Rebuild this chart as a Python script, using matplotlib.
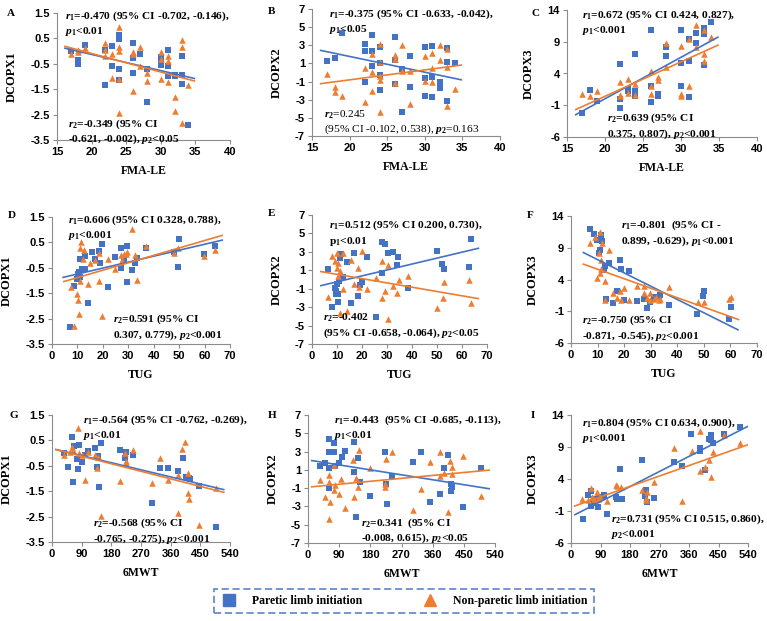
import numpy as np
import matplotlib.pyplot as plt
from matplotlib.lines import Line2D

plt.rcParams['font.family'] = ['Liberation Serif', 'DejaVu Serif']
plt.rcParams['mathtext.fontset'] = 'custom'
plt.rcParams['mathtext.rm'] = 'Liberation Serif:bold'
plt.rcParams['mathtext.it'] = 'Liberation Serif:italic:bold'
plt.rcParams['mathtext.bf'] = 'Liberation Serif:bold'

BLUE = '#4472C4'
ORANGE = '#ED7D31'

#---------------------------
# Données
#---------------------------

# A : FMA-LE vs DCOPX1
A_par_x = [17, 18, 18, 19, 22, 22, 23, 23, 24, 24, 24, 24, 26, 26, 26, 27, 28, 28, 30, 30, 30, 31, 31, 31, 32, 32, 33, 33, 33, 34]
A_par_y = [0.0, -0.35, -0.5, 0.25, 0.05, -1.34, 0.19, -0.58, 0.62, 0.47, -0.69, -1.14, 0.3, -0.27, -0.88, -0.1, -2.0, -0.69,
           -0.23, -0.53, -0.36, 0.06, -0.6, -0.99, -0.95, -0.99, -0.2, -0.95, -1.31, -2.9]
A_non_x = [17, 18, 18, 19, 22, 22, 22, 23, 23, 24, 24, 24, 24, 24, 26, 26, 26, 27, 27, 28, 28, 30, 30, 30, 31, 31, 31, 32, 32, 33, 33, 33, 34]
A_non_y = [-0.1, -0.03, 0.03, 0.13, 0.3, 0.03, -0.2, -0.1, -1.04, 0.95, 0.17, 0.0, -1.1, -2.45, -0.03, -0.12, -1.56, 0.17, -0.57,
           -0.88, -1.17, -0.03, -1.08, -0.33, -0.2, -0.4, -1.2, -1.8, -2.35, 0.45, 0.17, -2.85, -1.35]

# B : FMA-LE vs DCOPX2
B_par_x = [17, 18, 19, 22, 22, 22, 23, 23, 23, 24, 24, 24, 24, 26, 26, 26, 27, 27, 28, 28, 30, 30, 30, 31, 31, 31, 32, 32, 33, 33, 33, 34]
B_par_y = [1.3, 1.6, 4.4, 3.1, 2.4, -1.0, 4.1, 2.4, 0.75, 2.8, 1.1, -0.3, -1.9, 3.9, 1.4, -1.3, -4.3, 0.36, 1.8, -1.6,
           2.85, -0.56, -2.56, 2.95, -0.45, -2.7, -1.0, -1.7, 2.65, 1.2, -3.1, 1.1]
B_non_x = [17, 18, 18, 19, 22, 22, 23, 23, 23, 24, 24, 24, 24, 24, 26, 26, 26, 27, 27, 28, 28, 30, 30, 31, 31, 31, 32, 32, 33, 33, 33, 34]
B_non_y = [-0.2, -1.56, -2.1, -2.6, 0.47, -3.3, 2.06, 0.06, -2.0, 3.16, 1.2, -0.4, -0.8, -4.4, 1.95, 1.47, -1.2, 3.05, 0.2,
           0.2, -3.5, 1.83, -0.93, 2.2, 0.47, -1.05, 3.05, 1.4, 2.57, 0.58, -3.7, -1.86]

# C : FMA-LE vs DCOPX3
C_par_x = [17, 18, 19, 22, 22, 22, 23, 23, 24, 24, 24, 26, 26, 26, 27, 27, 28, 28, 30, 30, 30, 31, 31, 31, 32, 32, 33, 33, 33, 34]
C_par_y = [-2.2, 1.4, -0.3, 5.5, 0.0, -1.4, 1.5, 1.2, 7.0, 1.2, 0.4, 10.9, 2.1, -0.5, 0.8, 0.5, 8.1, 6.7, 10.9, 5.6, 2.1,
           9.5, 6.0, 0.3, 10.3, 8.8, 11.1, 10.2, 5.4, 12.1]
C_non_x = [17, 18, 19, 22, 22, 22, 23, 23, 24, 24, 26, 26, 26, 27, 27, 28, 28, 30, 30, 30, 31, 31, 32, 32, 33, 33, 33, 34]
C_non_y = [0.8, 0.4, 1.2, 2.7, 0.6, 0.4, 3.1, 0.9, 2.3, 0.6, 4.4, 2.1, 0.8, 3.5, 3.0, 8.8, 5.1, 8.3, 0.8, 0.4, 9.5, 2.0,
           11.6, 8.2, 10.9, 7.0, 5.9, 9.7]

# D : TUG vs DCOPX1
D_par_x = [7.2, 8.8, 9.8, 10.1, 10.5, 10.9, 11.1, 11.8, 12.4, 13.1, 13.1, 14.1, 15.7, 17.0, 18.3, 18.7, 19.6, 21.9, 24.9,
           27.2, 27.2, 28.4, 29.5, 29.5, 31.4, 32.7, 33.4, 36.9, 47.8, 49.7, 50.0, 59.6, 64.1]
D_par_y = [-2.85, -1.22, -0.96, -0.75, -0.66, -0.88, -0.14, -0.53, -0.53, -0.04, -0.53, -1.9, 0.13, -0.14, 0.17, -0.33, 0.45,
           -1.27, -0.07, 0.26, -0.49, -0.2, 0.35, -1.05, -0.59, -0.31, -0.1, 0.26, 0.13, -0.46, 0.65, 0.06, 0.35]
D_non_x = [7.5, 8.8, 9.8, 10.1, 10.5, 10.9, 11.5, 11.1, 12.2, 12.7, 14.1, 15.1, 17.0, 18.3, 18.3, 19.6, 21.9, 24.9, 27.2,
           27.5, 28.4, 29.2, 29.5, 31.4, 32.7, 33.6, 36.9, 47.8, 49.7, 59.6, 64.1]
D_non_y = [-1.27, -2.8, -1.54, -1.75, -2.3, -1.01, 0.52, 0.26, -0.14, 0.19, -1.12, -0.31, -0.2, 0.09, -1.03, -2.4, -0.16,
           -0.53, 0.0, -0.18, 0.06, 0.03, 0.12, 1.04, 0.0, -0.99, 0.35, 0.1, 0.26, -0.04, 0.19]

# E : TUG vs DCOPX2
E_par_x = [6.4, 8.0, 9.1, 9.4, 9.5, 9.8, 10.2, 10.4, 10.7, 11.1, 11.5, 12.4, 13.8, 15.4, 16.9, 18.2, 19.1, 19.8, 22.1,
           25.4, 27.8, 28.1, 29.2, 30.3, 32.5, 33.9, 34.5, 38.2, 49.9, 51.9, 52.6, 62.6, 63.7]
E_par_y = [1.1, -3.0, -0.94, -1.3, -1.55, -0.47, -2.4, -1.6, -0.15, 2.3, 2.8, 0.32, 1.95, -2.6, 2.85, -1.8, -0.6, -0.3, 2.4,
           -4.1, 0.75, 4.1, 3.9, 2.85, 2.95, 1.6, 2.4, -0.95, 3.1, 1.7, 1.1, 1.4, 4.4]
E_non_x = [6.4, 8.0, 9.1, 9.8, 9.8, 10.4, 10.4, 11.1, 11.1, 12.4, 12.4, 13.8, 15.4, 16.9, 18.2, 18.7, 19.8, 22.1, 25.4,
           27.8, 28.1, 29.2, 30.3, 30.3, 32.5, 33.9, 34.8, 38.3, 49.9, 52.2, 52.6, 62.6, 63.7]
E_non_y = [-1.85, 2.5, 2.0, 2.9, 1.2, 1.8, 0.4, 0.9, -3.6, 2.9, -1.05, -3.4, 2.1, -0.5, 1.3, -0.8, 3.1, -1.0, 0.2, 2.05,
           -2.0, -1.2, 1.6, -4.3, -0.7, -1.5, 0.0, 0.4, -3.1, -2.0, -0.3, -0.1, -2.6]

# F : TUG vs DCOPX3
F_par_x = [7.3, 8.5, 9.8, 10.4, 11.0, 11.3, 11.3, 11.7, 12.3, 12.9, 13.2, 14.2, 15.7, 17.3, 18.6, 18.9, 20.1, 22.0, 24.8,
           27.4, 28.6, 29.6, 31.1, 33.0, 33.6, 36.8, 47.4, 49.7, 49.9, 59.6, 60.2]
F_par_y = [12.0, 11.1, 10.2, 8.2, 8.7, 11.0, 10.3, 10.1, 5.5, 6.1, 0.9, 6.6, 0.3, 2.25, 7.0, 5.6, 0.8, 5.4, 0.6, 0.9, -0.5,
           0.4, 1.2, 1.3, 1.6, 0.0, -1.4, 1.4, 2.25, -2.2, -0.3]
F_non_x = [7.3, 8.9, 9.8, 10.4, 10.8, 10.8, 11.3, 11.3, 11.7, 12.9, 12.9, 14.2, 15.7, 17.3, 18.6, 18.9, 19.8, 22.0, 24.8,
           27.4, 27.6, 28.6, 29.6, 29.9, 31.1, 32.1, 33.0, 33.6, 36.8, 47.8, 49.9, 59.6, 60.4]
F_non_y = [9.8, 10.7, 4.3, 8.2, 11.5, 5.1, 5.7, 7.1, 9.7, 3.7, 0.7, 8.7, 1.8, 1.05, 2.25, 0.7, 2.6, 0.8, 3.0, 1.9, 3.0,
           1.05, 1.9, 0.8, 0.9, 1.2, 0.7, 0.9, 2.8, 0.5, 0.5, 0.9, 1.2]

# G : 6MWT vs DCOPX1
G_par_x = [35, 50, 61, 64, 66, 76, 78, 81, 91, 101, 108, 131, 136, 141, 144, 148, 207, 222, 225, 245, 303, 328, 351, 382,
           396, 406, 417, 419, 447, 498]
G_par_y = [-0.01, -0.54, 0.62, -1.13, 0.28, -0.25, -0.64, 0.32, -0.34, -0.08, 0.09, 0.22, -0.54, -0.12, -1.33, 0.41, 0.12,
           -0.21, 0.05, -0.08, -1.96, -0.6, -0.6, -0.7, -0.21, -0.93, -0.97, -1.0, -1.3, -2.9]
G_non_x = [35, 55, 61, 64, 78, 81, 91, 101, 108, 131, 138, 141, 148, 207, 222, 224, 225, 245, 303, 328, 351, 381, 382,
           394, 404, 414, 414, 417, 447, 498]
G_non_y = [-0.08, 0.05, 0.25, 0.12, 0.97, -0.01, -0.08, -1.07, 0.03, -0.08, -0.58, -0.14, -2.47, -1.09, -0.01, -0.3, -0.38,
           0.14, -1.17, -0.18, -1.07, -2.36, -0.87, 0.18, 0.45, -0.78, -1.59, -1.82, -2.84, -1.36]

# H : 6MWT vs DCOPX2
H_par_x = [34, 48, 60, 60, 60, 60, 75, 75, 77, 89, 98, 106, 133, 133, 143, 138, 149, 178, 222, 225, 227, 243, 304, 326,
           352, 381, 394, 405, 413, 413, 415, 448, 500]
H_par_y = [1.4, 1.7, 4.4, 2.9, 1.15, -1.0, 3.9, 2.9, 1.4, 1.7, 2.4, 3.1, 4.1, 0.8, 2.35, -4.2, -0.3, -1.9, 2.9, -0.6, -2.7,
           0.3, 1.9, 3.0, -2.5, -1.6, 1.2, 2.6, -0.5, -1.3, -0.9, -3.05, 1.15]
H_non_x = [34, 48, 60, 60, 60, 63, 75, 75, 77, 89, 96, 106, 130, 133, 140, 143, 147, 178, 222, 222, 225, 243, 304, 326,
           352, 381, 381, 394, 405, 410, 415, 415, 448, 500]
H_non_y = [-0.1, -2.0, 0.4, -0.3, -4.35, -2.5, 1.5, -1.2, -0.7, -1.6, 0.05, -3.2, 2.1, -1.95, 0.15, -0.9, 3.15, 1.25, -0.9,
           -0.5, 2.15, 3.0, -3.4, -1.05, 1.9, 3.0, 0.3, 0.7, -3.6, 2.0, 1.35, 0.55, 2.5, -1.9]

# I : 6MWT vs DCOPX3
I_par_x = [36, 51, 61, 61, 66, 69, 81, 84, 97, 102, 111, 138, 140, 150, 155, 216, 226, 229, 231, 253, 315, 340, 366, 395,
           395, 408, 420, 428, 428, 434, 466, 517]
I_par_y = [-2.2, 1.5, 2.15, -0.25, 0.27, 0.8, -0.45, 1.1, 1.2, 1.5, -1.4, 1.2, 0.95, 5.5, 0.8, 7.0, 1.3, 2.35, 0.4, 1.05,
           6.6, 6.1, 11.0, 8.8, 8.3, 5.4, 10.2, 10.9, 10.1, 9.7, 11.0, 12.1]
I_non_x = [35, 51, 61, 64, 69, 79, 81, 89, 109, 138, 140, 153, 216, 228, 229, 233, 253, 315, 340, 369, 395, 395, 410, 420,
           428, 432, 466, 517]
I_non_y = [0.95, 0.7, 2.65, 1.2, 0.95, 2.0, 0.8, 1.2, 0.6, 3.05, 2.9, 2.7, 2.25, 0.7, 1.1, 2.0, 3.55, 8.8, 0.6, 8.4, 5.2,
           11.5, 5.9, 7.0, 4.3, 8.2, 10.9, 9.7]

# Textes des corrélations
r1_txt = {
    "A": "$r_{\\mathit{1}}$=-0.470 (95% CI -0.702, -0.146),\n$p_{\\mathit{1}}$<0.01",
    "B": "$r_{\\mathit{1}}$=-0.375 (95% CI -0.633, -0.042),\n$p_{\\mathit{1}}$<0.05",
    "C": "$r_{\\mathit{1}}$=0.672 (95% CI 0.424, 0.827),\n$p_{\\mathit{1}}$<0.001",
    "D": "$r_{\\mathit{1}}$=0.606 (95% CI 0.328, 0.788),\n$p_{\\mathit{1}}$<0.001",
    "E": "$r_{\\mathit{1}}$=0.512 (95% CI 0.200, 0.730),\np$_1$<0.01",
    "F": "$r_{\\mathit{1}}$=-0.801  (95% CI -\n0.899, -0.629), $p_{\\mathit{1}}$<0.001",
    "G": "$r_{\\mathit{1}}$=-0.564 (95% CI -0.762, -0.269),\n$p_{\\mathit{1}}$<0.01",
    "H": "$r_{\\mathit{1}}$=-0.443  (95% CI -0.685, -0.113),\n$p_{\\mathit{1}}$<0.01",
    "I": "$r_{\\mathit{1}}$=0.804 (95% CI 0.634, 0.900),\n$p_{\\mathit{1}}$<0.001",
}
r2_txt = {
    "A": "$r_{\\mathit{2}}$=-0.349 (95% CI\n-0.621, -0.002), $p_{\\mathit{2}}$<0.05",
    "B": "$r_{\\mathit{2}}$=0.245\n(95% CI -0.102, 0.538), $p_{\\mathit{2}}$=0.163",
    "C": "$r_{\\mathit{2}}$=0.639 (95% CI\n0.375, 0.807), $p_{\\mathit{2}}$<0.001",
    "D": "$r_{\\mathit{2}}$=0.591 (95% CI\n0.307, 0.779), $p_{\\mathit{2}}$<0.001",
    "E": "$r_{\\mathit{2}}$=-0.402\n(95% CI -0.658, -0.064), $p_{\\mathit{2}}$<0.05",
    "F": "$r_{\\mathit{2}}$=-0.750 (95% CI\n-0.871, -0.545), $p_{\\mathit{2}}$<0.001",
    "G": "$r_{\\mathit{2}}$=-0.568 (95% CI\n-0.765, -0.275), $p_{\\mathit{2}}$<0.001",
    "H": "$r_{\\mathit{2}}$=0.341  (95% CI\n-0.008, 0.615), $p_{\\mathit{2}}$<0.05",
    "I": "$r_{\\mathit{2}}$=0.731 (95% CI 0.515, 0.860),\n$p_{\\mathit{2}}$<0.001",
}

#---------------------------
# Mise en page (pixels -> fraction figure)
#---------------------------

W, H = 767, 621
# left, right, top, bottom en pixels
boxes = {
    "A": (57, 230, 13, 140), "B": (312, 500, 9, 136), "C": (567, 757, 10, 137),
    "D": (52, 230, 217, 344), "E": (312, 487, 215, 344), "F": (571, 757, 216, 343),
    "G": (52, 230, 415, 542), "H": (308, 495, 415, 543), "I": (571, 748, 415, 543),
}
letter_pos = {"A": (7, 13), "B": (268, 12), "C": (531, 13), "D": (8, 215), "E": (268, 213),
              "F": (527, 215), "G": (10, 415), "H": (268, 415), "I": (531, 415)}
t1_pos = {"A": (0.046, 1.03), "B": (0.09, 1.01), "C": (0.079, 1.01), "D": (0.09, 1.03), "E": (0.097, 0.97),
          "F": (0.269, 0.98), "G": (0.174, 1.01), "H": (0.139, 1.01), "I": (0.062, 0.99)}
t2_pos = {"A": (0.064, 0.18), "B": (0.064, 0.22), "C": (0.21, 0.2), "D": (0.343, 0.245), "E": (0.063, 0.25),
          "F": (0.06, 0.23), "G": (0.23, 0.2), "H": (0.283, 0.21), "I": (0.226, 0.24)}

panels = {
    "A": (A_par_x, A_par_y, A_non_x, A_non_y), "B": (B_par_x, B_par_y, B_non_x, B_non_y),
    "C": (C_par_x, C_par_y, C_non_x, C_non_y), "D": (D_par_x, D_par_y, D_non_x, D_non_y),
    "E": (E_par_x, E_par_y, E_non_x, E_non_y), "F": (F_par_x, F_par_y, F_non_x, F_non_y),
    "G": (G_par_x, G_par_y, G_non_x, G_non_y), "H": (H_par_x, H_par_y, H_non_x, H_non_y),
    "I": (I_par_x, I_par_y, I_non_x, I_non_y),
}
# une ligne = une variable clinique en x ; une colonne = un DCOPX en y
row_x = [("FMA-LE", np.arange(15, 41, 5)), ("TUG", np.arange(0, 71, 10)), ("6MWT", np.arange(0, 541, 90))]
col_y = [("DCOPX1", np.arange(-3.5, 1.6, 1.0)), ("DCOPX2", np.arange(-7, 8, 2)), ("DCOPX3", np.arange(-6, 15, 5))]

fig = plt.figure(figsize=(W / 100, H / 100), dpi=100)

for i, key in enumerate("ABCDEFGHI"):
    l, r, t, b = boxes[key]
    ax = fig.add_axes([l / W, 1 - b / H, (r - l) / W, (b - t) / H])
    xlab, xt = row_x[i // 3]
    ylab, yt = col_y[i % 3]
    px, py, nx, ny = [np.array(v, dtype=float) for v in panels[key]]

    ax.scatter(px, py, marker='s', s=15, color=BLUE, zorder=3, linewidths=0)
    ax.scatter(nx, ny, marker='^', s=22, color=ORANGE, zorder=3, linewidths=0)

    # Courbes de tendance linéaires (type Excel)
    for x, y, c in ((px, py, BLUE), (nx, ny, ORANGE)):
        k, b0 = np.polyfit(x, y, 1)
        span = x.max() - x.min()
        xl = np.array([x.min() - 0.05 * span, x.max() + 0.05 * span])
        ax.plot(xl, k * xl + b0, color=c, lw=1.2, zorder=4)

    ax.set_xlim(xt[0], xt[-1])
    ax.set_ylim(yt[0], yt[-1])
    ax.set_xticks(xt)
    ax.set_yticks(yt)
    ax.set_yticklabels([f"{v:g}" for v in yt])
    for s in ("top", "right"):
        ax.spines[s].set_visible(False)
    for s in ("left", "bottom"):
        ax.spines[s].set_color('#8C8C8C')
        ax.spines[s].set_linewidth(0.8)
    ax.tick_params(length=3, width=0.8, color='#8C8C8C', pad=2)
    for lab in ax.get_xticklabels() + ax.get_yticklabels():
        lab.set_family(['Liberation Sans', 'DejaVu Sans'])
        lab.set_fontweight('bold')
        lab.set_fontsize(8)
    ax.set_xlabel(xlab, fontsize=8.5, fontweight='bold', labelpad=6)
    ax.set_ylabel(ylab, fontsize=9, fontweight='bold', labelpad=9)

    ax.text(*t1_pos[key], r1_txt[key], transform=ax.transAxes, ha='left', va='top',
            fontsize=8.2, fontweight='bold', linespacing=1.25, zorder=5)
    ax.text(*t2_pos[key], r2_txt[key], transform=ax.transAxes, ha='left', va='top',
            fontsize=8.2, fontweight='normal' if key == "B" else 'bold', linespacing=1.25, zorder=5)

    lx, ly = letter_pos[key]
    fig.text(lx / W, 1 - ly / H, key, fontsize=8, fontweight='bold', va='center', ha='left')

# Légende
handles = [Line2D([], [], marker='s', ls='none', color=BLUE, markersize=8),
           Line2D([], [], marker='^', ls='none', color=ORANGE, markersize=8.5)]
leg = fig.legend(handles, ["Paretic limb initiation", "Non-paretic limb initiation"],
                 loc='center', bbox_to_anchor=(404 / W, 1 - 601 / H), ncol=2, frameon=True,
                 fancybox=False, columnspacing=5.0, handletextpad=1.2, handlelength=1.5,
                 prop={'weight': 'bold', 'size': 8.5}, borderpad=0.5, borderaxespad=0)
leg.get_frame().set_edgecolor(BLUE)
leg.get_frame().set_linestyle((0, (4, 2)))
leg.get_frame().set_linewidth(1.3)

fig.savefig("out.png", dpi=100)
